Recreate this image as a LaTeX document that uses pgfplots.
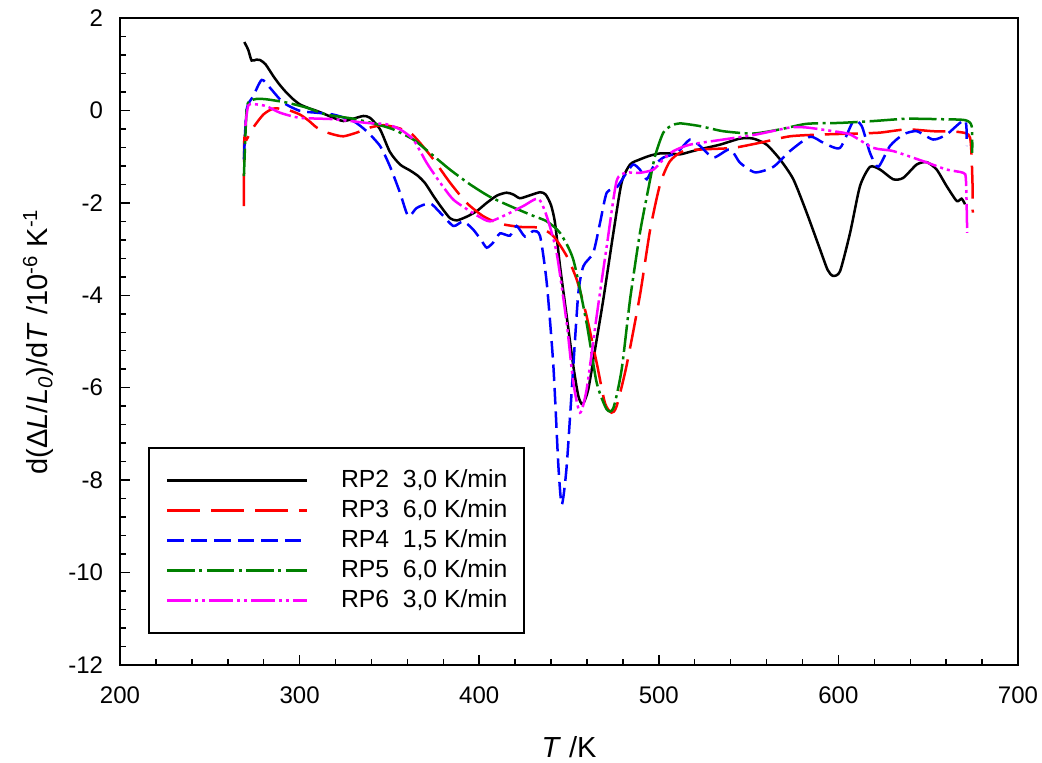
\documentclass[border=0pt]{standalone}
\usepackage{fontspec}
\setmainfont{Liberation Sans}
\usepackage{pgfplots}
\pgfplotsset{compat=1.18}
\definecolor{dgreen}{RGB}{0,128,0}
\definecolor{pmag}{RGB}{255,0,255}
\definecolor{pred}{RGB}{255,0,0}
\definecolor{pblue}{RGB}{0,0,255}
\begin{document}
\begin{tikzpicture}
\begin{axis}[
  scale only axis, width=359.2pt, height=258.8pt,
  at={(0,0)}, anchor=south west,
  xmin=200, xmax=700, ymin=-12, ymax=2,
  xtick={200,300,400,500,600,700},
  xticklabels={200,300,400,500,600,700},
  ytick={-12,-10,-8,-6,-4,-2,0,2},
  yticklabels={-12,-10,-8,-6,-4,-2,0,2},
  minor x tick num=4, minor y tick num=4,
  tick align=inside, tick pos=left,
  major tick length=4pt, minor tick length=2.4pt,
  axis line style={line width=0.8pt},
  every tick/.style={black, line width=0.6pt},
  ticklabel style={font=\fontsize{9.6}{11}\selectfont},
  xticklabel style={inner sep=0pt, anchor=north, yshift=-8.4pt},
  yticklabel style={inner sep=0pt, anchor=east, xshift=-6.6pt},
  xlabel={\textit{T} /K},
  ylabel={d(Δ\textit{L}/\textit{L}\textsubscript{\textit{0}})/d\textit{T} /10\textsuperscript{-6} K\textsuperscript{-1}},
  label style={font=\fontsize{11.6}{13}\selectfont},
  xlabel style={at={(axis description cs:0.5,-0.1422)}, anchor=base},
  ylabel style={at={(axis description cs:-0.0802,0.5)}, anchor=base, rotate=0},
  legend style={at={(axis description cs:0.0312,0.0479)}, anchor=south west,
    draw=black, line width=0.8pt, inner xsep=6.8pt, inner ysep=8.3pt,
    row sep=2.7pt, column sep=13pt,
    font=\fontsize{9.9}{12}\selectfont,
    nodes={inner sep=0pt, text height=7.2pt, text depth=2.1pt}},
  legend cell align=left,
  legend image code/.code={\draw[#1] (0pt,0pt) -- (56pt,0pt);},
]
% RP2
\addplot[black, line width=1pt, smooth, tension=0.4] coordinates {
(269.2,1.48)(270.3,1.40)(271.5,1.30)(273.3,1.08)(276,1.10)(278,1.09)(281,1.00)
(285.4,0.74)(289,0.55)(292.8,0.38)(296.5,0.24)(300.2,0.13)(305,0.05)(309.5,-0.01)
(314,-0.08)(318.8,-0.16)(324.4,-0.23)(329.9,-0.18)(335.5,-0.12)(339.2,-0.16)
(344.8,-0.41)(350.3,-0.90)(355.9,-1.17)(361.5,-1.30)(366,-1.42)(370,-1.58)
(374.5,-1.85)(379,-2.10)(383.7,-2.33)(387.5,-2.38)(393,-2.30)(398.6,-2.18)
(404.2,-2.0)(410,-1.84)(415.3,-1.78)(419,-1.82)(422.7,-1.90)(428,-1.84)
(433.9,-1.77)(437,-1.82)(440,-2.05)(442.2,-2.43)(445,-3.37)(448.7,-4.45)
(452.4,-5.53)(455.2,-6.18)(457.6,-6.36)(460.7,-6.04)(464.5,-5.17)(469.1,-4.09)
(474.7,-2.65)(479.3,-1.56)(484,-1.17)(489.5,-1.06)(495,-0.98)(500.7,-0.93)
(506,-0.93)(511.8,-0.95)(517,-0.90)(523,-0.84)(534.1,-0.74)(545.2,-0.61)
(552.6,-0.61)(560,-0.74)(567.5,-1.06)(574.9,-1.49)(582.3,-2.21)(589.8,-3.01)
(594,-3.45)(597,-3.58)(600.9,-3.48)(606.5,-2.65)(612,-1.64)(617.6,-1.22)
(623.2,-1.28)(630.5,-1.49)(636.1,-1.46)(643.6,-1.17)(649.2,-1.12)(654.7,-1.28)
(660.3,-1.64)(665.9,-1.96)(668.6,-1.91)(670.5,-2.03)
};
\addlegendentry{RP2\hspace{0.55em}3,0 K/min}
% RP3
\addplot[pred, line width=1pt, dash pattern=on 13.2pt off 4.4pt, smooth, tension=0.4] coordinates {
(269,-2.07)(269.2,-0.63)(270.5,-0.63)(274.2,-0.37)(279.8,-0.09)(285.4,0.04)
(292.8,0.02)(300.2,-0.09)(305,-0.22)(309.5,-0.37)(314,-0.46)(318.8,-0.52)
(324.4,-0.56)(331.8,-0.48)(339.2,-0.37)(346.6,-0.32)(354,-0.37)(361.5,-0.48)
(367,-0.70)(374.5,-1.06)(383.7,-1.56)(393,-2.0)(402.3,-2.29)(411.6,-2.45)
(422.7,-2.52)(433.9,-2.54)(441.3,-2.72)(448.7,-3.15)(454.3,-3.66)(459.8,-4.45)
(465.4,-5.46)(470,-6.33)(473.7,-6.54)(476.5,-6.40)(482,-5.53)(489.5,-4.0)
(495.1,-2.6)(500.7,-1.6)(506.2,-1.1)(513.7,-0.88)(526.6,-0.84)(541.5,-0.81)
(556.3,-0.70)(573,-0.56)(591.6,-0.52)(610.1,-0.50)(623.2,-0.48)(638,-0.41)
(652.8,-0.45)(667.7,-0.47)(673.3,-0.59)(674.6,-1.49)(674.8,-2.21)
};
\addlegendentry{RP3\hspace{0.55em}6,0 K/min}
% RP4
\addplot[pblue, line width=1pt, dash pattern=on 6.6pt off 2.8pt, smooth, tension=0.4] coordinates {
(269,-1.06)(270.5,0.02)(274.2,0.31)(278.9,0.66)(283.5,0.49)(290.9,0.17)
(300.2,-0.01)(309.5,-0.05)(318.8,-0.09)(329.9,-0.23)(337.3,-0.45)(344.8,-0.77)
(350.3,-1.21)(355.9,-1.78)(360.5,-2.29)(365.2,-2.11)(372.6,-2.01)(378.2,-2.21)
(385.6,-2.50)(391.1,-2.40)(396.7,-2.58)(401,-2.80)(404.2,-2.97)(408,-2.85)
(411.6,-2.66)(417.1,-2.71)(420.8,-2.50)(425.5,-2.73)(430.1,-2.61)(433.9,-2.72)
(437.6,-3.73)(441.3,-5.53)(444.1,-7.70)(446,-8.53)(448.7,-7.70)(452.4,-5.53)
(455.2,-3.95)(458,-3.37)(463.5,-3.08)(467.3,-2.43)(471,-1.78)(476.5,-1.67)
(482,-1.35)(485.8,-1.17)(489.5,-1.28)(493.3,-1.49)(497,-1.21)(502.5,-1.02)
(509.9,-0.92)(517.4,-0.63)(523,-0.77)(530.4,-1.02)(539.6,-0.84)(545.2,-1.13)
(553.6,-1.34)(563.8,-1.22)(573,-0.88)(584.2,-0.57)(591.6,-0.70)(600.9,-0.81)
(608.3,-0.23)(613,-0.34)(617.6,-0.92)(622.2,-1.22)(628.7,-0.77)(636.1,-0.52)
(643.6,-0.45)(652.8,-0.63)(660.3,-0.52)(670.5,-0.21)(671.4,-0.77)
};
\addlegendentry{RP4\hspace{0.55em}1,5 K/min}
% RP5
\addplot[dgreen, line width=1pt, dash pattern=on 11pt off 1.8pt on 1.2pt off 1.8pt, smooth, tension=0.4] coordinates {
(269,-1.42)(270.5,0.02)(272.4,0.20)(276.1,0.25)(281.7,0.24)(292.8,0.17)
(303.9,0.06)(315,-0.09)(329.9,-0.18)(342.9,-0.30)(352.1,-0.41)(363.3,-0.63)
(372.6,-0.92)(383.7,-1.28)(394.9,-1.60)(406,-1.87)(419,-2.10)(430,-2.28)
(437.6,-2.40)(445,-2.65)(452.4,-3.23)(459.8,-4.60)(465.4,-5.89)(471,-6.47)
(474.7,-6.44)(479.3,-5.61)(484,-4.09)(489.5,-2.65)(494.1,-1.71)(497.9,-0.99)
(502.5,-0.48)(507,-0.33)(511.8,-0.28)(523,-0.34)(535.9,-0.45)(552.6,-0.50)
(567.5,-0.41)(582.3,-0.29)(600.9,-0.27)(619.4,-0.23)(638,-0.18)(656.6,-0.19)
(670.5,-0.21)(674.2,-0.34)(674.5,-0.92)
};
\addlegendentry{RP5\hspace{0.55em}6,0 K/min}
% RP6
\addplot[pmag, line width=1pt, dash pattern=on 9.6pt off 1.6pt on 1.2pt off 1.6pt on 1.2pt off 1.6pt, smooth, tension=0.4] coordinates {
(269.8,-0.34)(271.5,0.11)(276.1,0.13)(281.7,0.09)(289.1,-0.05)(300.2,-0.16)
(318.8,-0.19)(337.3,-0.27)(348.4,-0.30)(355.9,-0.41)(363.3,-0.63)(370.7,-1.13)
(378.2,-1.56)(385.6,-1.93)(394.9,-2.18)(400,-2.30)(406,-2.40)(415.3,-2.25)
(424.5,-2.07)(432.9,-1.91)(437.6,-2.29)(443.1,-3.08)(448.7,-4.60)(452.4,-5.89)
(456.1,-6.54)(459.8,-6.04)(465.4,-4.45)(471,-2.94)(476.5,-1.53)(482,-1.35)
(489.5,-1.35)(497,-1.28)(502.5,-1.06)(508.1,-0.88)(517.4,-0.74)(535.9,-0.63)
(554.4,-0.52)(573,-0.37)(582.3,-0.37)(597.1,-0.45)(606.5,-0.52)(619.4,-0.81)
(630.5,-0.88)(647.3,-1.10)(660.3,-1.28)(669.5,-1.35)(671,-1.5)(671.7,-2.65)
};
\addlegendentry{RP6\hspace{0.55em}3,0 K/min}
\end{axis}
\pgfresetboundingbox
\path[use as bounding box] (-48pt,-38.8pt) rectangle (368.8pt,266pt);
\end{tikzpicture}
\end{document}
